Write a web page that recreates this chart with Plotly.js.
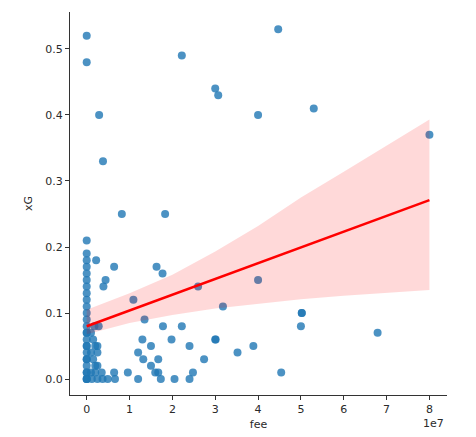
<!DOCTYPE html>
<html>
<head>
<meta charset="utf-8">
<script src="https://cdn.plot.ly/plotly-3.0.1.min.js"></script>
<style>html,body{margin:0;padding:0;background:#fff;}#chart{width:476px;height:437px;}</style>
</head>
<body>
<div id="chart"></div>
<script>
// Scatter data: transfer fee vs xG
const fee = [
  0,0,0,0,0,0,0,0,0,0,0,0,0,0,0,0,0,0,0,0,0,0,0,0,0,0,0,0,0,
  1000000,1500000,2000000,2500000,1000000,2500000,1500000,2000000,2500000,1000000,2000000,
  1200000,2500000,3700000,4900000,6600000,6400000,9600000,1800000,2800000,2200000,6400000,
  4400000,3900000,2900000,3800000,8200000,3500000,
  10900000,13500000,17800000,22200000,13000000,15000000,19800000,24000000,30000000,30100000,
  12000000,13200000,16700000,27400000,15000000,16000000,16700000,24800000,12000000,17300000,
  20500000,24000000,31800000,16300000,17700000,18300000,22200000,30000000,30700000,40000000,
  44700000,26000000,40000000,35200000,38900000,45400000,50200000,50200000,50000000,67900000,
  53000000,80000000
];
const xG = [
  0.52,0.48,0.21,0.19,0.18,0.17,0.16,0.15,0.14,0.13,0.12,0.11,0.10,0.09,0.08,0.07,0.07,0.06,0.05,0.05,0.04,0.03,0.03,0.02,0.01,0.01,0.0,0.0,0.0,
  0.07,0.06,0.05,0.05,0.04,0.04,0.03,0.02,0.02,0.01,0.01,
  0.0,0.0,0.0,0.0,0.0,0.01,0.01,0.08,0.08,0.18,0.17,
  0.15,0.14,0.40,0.33,0.25,0.01,
  0.12,0.09,0.08,0.08,0.06,0.05,0.06,0.05,0.06,0.06,
  0.04,0.03,0.03,0.03,0.02,0.01,0.01,0.01,0.0,0.0,
  0.0,0.0,0.11,0.17,0.16,0.25,0.49,0.44,0.43,0.40,
  0.53,0.14,0.15,0.04,0.05,0.01,0.10,0.10,0.08,0.07,
  0.41,0.37
];

// Regression line and 95% confidence band
const fitX   = [0, 10000000, 20000000, 30000000, 40000000, 50000000, 60000000, 70000000, 80000000];
const fitY   = [0.080, 0.104, 0.128, 0.152, 0.176, 0.199, 0.223, 0.247, 0.271];
const ciLow  = [0.068, 0.085, 0.097, 0.107, 0.114, 0.121, 0.126, 0.131, 0.135];
const ciHigh = [0.105, 0.130, 0.158, 0.193, 0.232, 0.275, 0.314, 0.354, 0.393];

// Tick labels
const xTickVals = [0,10000000,20000000,30000000,40000000,50000000,60000000,70000000,80000000];
const xTickText = ['0','1','2','3','4','5','6','7','8'];
const yTickVals = [0,0.1,0.2,0.3,0.4,0.5];
const yTickText = ['0.0','0.1','0.2','0.3','0.4','0.5'];

const font = {family: 'DejaVu Sans, sans-serif', size: 11, color: '#2a2a2a'};

// closed polygon for the confidence band
const bandX = fitX.concat(fitX.slice().reverse());
const bandY = ciHigh.concat(ciLow.slice().reverse());

const traces = [
  {x: fee, y: xG, type: 'scatter', mode: 'markers',
   marker: {color: '#1f77b4', size: 8, opacity: 0.8, line: {width: 0}}, hoverinfo: 'skip'},
  {x: bandX, y: bandY, type: 'scatter', mode: 'lines', line: {width: 0, color: 'rgba(0,0,0,0)'},
   fill: 'toself', fillcolor: 'rgba(255,0,0,0.15)', hoverinfo: 'skip'},
  {x: fitX, y: fitY, type: 'scatter', mode: 'lines', line: {color: '#ff0000', width: 2.5}, hoverinfo: 'skip'}
];

const layout = {
  width: 476, height: 437,
  margin: {l: 70, r: 29, t: 12, b: 42},
  paper_bgcolor: '#fff', plot_bgcolor: '#fff',
  showlegend: false,
  font: font,
  xaxis: {
    range: [-3900000, 84100000],
    tickvals: xTickVals, ticktext: xTickText,
    showgrid: false, zeroline: false,
    showline: true, linecolor: '#333', linewidth: 1,
    ticks: 'outside', ticklen: 4, tickcolor: '#333', tickwidth: 1,
    tickfont: font,
    title: {text: 'fee', font: font, standoff: 5}
  },
  yaxis: {
    range: [-0.0242, 0.556],
    tickvals: yTickVals, ticktext: yTickText,
    showgrid: false, zeroline: false,
    showline: true, linecolor: '#333', linewidth: 1,
    ticks: 'outside', ticklen: 4, tickcolor: '#333', tickwidth: 1,
    tickfont: font,
    title: {text: 'xG', font: font, standoff: 10}
  },
  annotations: [
    {text: '1e7', xref: 'paper', yref: 'paper', x: 1, y: 0, xanchor: 'right', yanchor: 'top',
     yshift: -20, xshift: -1, showarrow: false, font: font}
  ]
};

Plotly.newPlot('chart', traces, layout, {displayModeBar: false, staticPlot: true});
</script>
</body>
</html>
